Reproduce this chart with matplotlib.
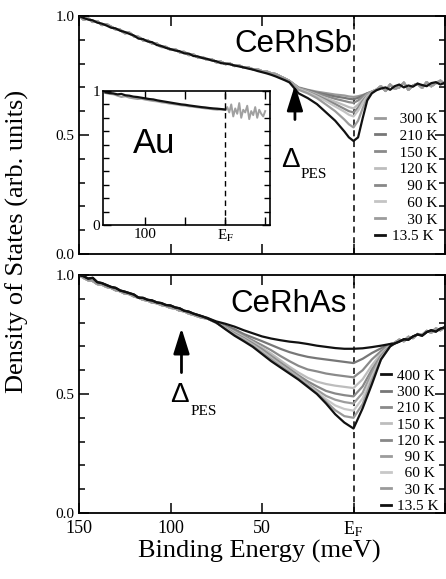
import numpy as np
import matplotlib
matplotlib.use("Agg")
import matplotlib.pyplot as plt
from matplotlib.lines import Line2D

plt.rcParams['font.family'] = ['Liberation Serif', 'DejaVu Serif']
plt.rcParams['mathtext.fontset'] = 'stix'

# ---------------- data: CeRhSb (top panel) ----------------
sb_hi_energy = [150, 147.5, 145, 142.5, 140, 137.5, 135, 132.5, 130, 127.5, 125, 122.5, 120, 117.5,
                115, 112.5, 110, 107.5, 105, 102.5, 100, 97.5, 95, 92.5, 90, 87.5, 85, 82.5, 80,
                77.5, 75, 72.5, 70, 67.5, 65, 62.5, 60, 57.5, 55, 52.5, 50, 47.5, 45, 42.5, 40, 37.5, 35]
sb_hi_black = [1.000, 0.992, 0.985, 0.982, 0.972, 0.968, 0.960, 0.951, 0.948, 0.938, 0.933, 0.925,
               0.918, 0.905, 0.903, 0.893, 0.890, 0.878, 0.874, 0.866, 0.861, 0.855, 0.852, 0.843,
               0.842, 0.832, 0.830, 0.823, 0.820, 0.813, 0.810, 0.802, 0.800, 0.797, 0.792, 0.788,
               0.784, 0.779, 0.775, 0.769, 0.764, 0.759, 0.753, 0.746, 0.738, 0.730, 0.721]
sb_hi_grey = [1.000, 0.985, 0.990, 0.975, 0.978, 0.962, 0.966, 0.955, 0.944, 0.942, 0.928, 0.930,
              0.915, 0.912, 0.898, 0.897, 0.884, 0.884, 0.870, 0.870, 0.858, 0.860, 0.848, 0.849,
              0.836, 0.838, 0.826, 0.827, 0.816, 0.818, 0.806, 0.808, 0.798, 0.800, 0.790, 0.792,
              0.783, 0.784, 0.776, 0.776, 0.768, 0.767, 0.759, 0.756, 0.746, 0.737, 0.727]
sb_dip_energy = [30, 25, 20, 15, 10, 5, 2.5, 0, -2.5, -5, -7.5, -10]
sb_temps = ['300 K', '210 K', '150 K', '120 K', '90 K', '60 K', '30 K', '13.5 K']
sb_dip = {
    '300 K': [.700, .690, .682, .676, .670, .666, .662, .660, .663, .668, .675, .682],
    '210 K': [.698, .688, .678, .670, .662, .656, .652, .650, .656, .665, .675, .682],
    '150 K': [.697, .686, .675, .664, .652, .643, .638, .635, .645, .660, .673, .682],
    '120 K': [.696, .684, .670, .655, .640, .625, .617, .612, .628, .650, .670, .682],
    '90 K':  [.695, .682, .666, .648, .630, .610, .600, .595, .615, .643, .667, .681],
    '60 K':  [.694, .680, .662, .642, .620, .598, .585, .578, .602, .635, .663, .680],
    '30 K':  [.690, .675, .655, .628, .600, .565, .545, .532, .560, .612, .655, .678],
    '13.5 K': [.675, .655, .630, .595, .560, .515, .490, .475, .490, .570, .645, .675],
}
sb_lo_energy = [-12.5, -15, -17.5, -20, -22.5, -25, -27.5, -30, -32.5, -35, -37.5, -40, -42.5,
                -45, -47.5, -50]
sb_lo_grey = [.690, .705, .685, .712, .695, .700, .720, .690, .708, .715, .698, .722, .705, .718,
              .728, .712]
sb_lo_black = [.688, .695, .700, .690, .705, .712, .700, .708, .703, .716, .710, .705, .718, .722,
               .712, .720]
sb_colors = ['#9a9a9a', '#777777', '#8a8a8a', '#bdbdbd', '#888888', '#c4c4c4', '#9c9c9c', '#111111']

# ---------------- data: CeRhAs (bottom panel) ----------------
as_hi_energy = [150, 147.5, 145, 142.5, 140, 137.5, 135, 132.5, 130, 127.5, 125, 122.5, 120, 117.5,
                115, 112.5, 110, 107.5, 105, 102.5, 100, 97.5, 95, 92.5, 90, 87.5, 85, 82.5]
as_hi_black = [1.000, 0.995, 0.985, 0.988, 0.970, 0.966, 0.958, 0.950, 0.946, 0.935, 0.930, 0.924,
               0.918, 0.905, 0.904, 0.896, 0.893, 0.885, 0.882, 0.874, 0.872, 0.864, 0.860, 0.850,
               0.846, 0.838, 0.832, 0.826]
as_hi_grey = [1.000, 0.988, 0.978, 0.975, 0.962, 0.960, 0.950, 0.946, 0.936, 0.932, 0.922, 0.920,
              0.910, 0.905, 0.896, 0.893, 0.884, 0.882, 0.874, 0.870, 0.862, 0.860, 0.850, 0.848,
              0.838, 0.833, 0.826, 0.820]
as_dip_energy = [80, 75, 70, 65, 60, 55, 50, 45, 40, 35, 30, 25, 20, 15, 10, 5, 0, -5, -10, -15, -20]
as_temps = ['400 K', '300 K', '210 K', '150 K', '120 K', '90 K', '60 K', '30 K', '13.5 K']
as_dip = {
    '400 K': [.82, .805, .795, .783, .768, .755, .742, .733, .726, .72, .716, .71, .703, .698, .693,
              .69, .69, .692, .697, .703, .71],
    '300 K': [.82, .80, .787, .772, .752, .737, .722, .706, .69, .676, .665, .656, .65, .645, .64,
              .635, .63, .648, .672, .692, .71],
    '210 K': [.818, .80, .782, .765, .745, .725, .705, .684, .66, .638, .618, .603, .595, .586, .58,
              .575, .57, .60, .645, .68, .708],
    '150 K': [.818, .80, .78, .76, .74, .718, .695, .67, .642, .615, .59, .568, .552, .542, .535,
              .53, .525, .562, .62, .67, .706],
    '120 K': [.818, .80, .778, .755, .735, .712, .688, .66, .632, .605, .578, .553, .532, .513, .502,
              .495, .49, .532, .602, .66, .703],
    '90 K':  [.818, .80, .776, .752, .732, .708, .683, .655, .627, .60, .572, .543, .517, .492, .476,
              .466, .46, .505, .588, .655, .702],
    '60 K':  [.818, .80, .775, .75, .73, .705, .678, .65, .622, .595, .568, .538, .508, .478, .452,
              .437, .43, .482, .572, .65, .70],
    '30 K':  [.818, .80, .774, .748, .727, .702, .674, .646, .618, .592, .565, .535, .503, .468, .432,
              .407, .40, .458, .558, .645, .70],
    '13.5 K': [.818, .80, .772, .745, .722, .698, .668, .638, .612, .586, .56, .53, .50, .46, .415,
               .38, .355, .44, .54, .645, .70],
}
as_lo_energy = [-22.5, -25, -27.5, -30, -32.5, -35, -37.5, -40, -42.5, -45, -47.5, -50]
as_lo_grey = [.715, .728, .722, .74, .735, .752, .748, .765, .758, .775, .768, .782]
as_lo_black = [.712, .72, .73, .728, .742, .75, .745, .76, .768, .762, .775, .78]
as_colors = ['#111111', '#777777', '#8a8a8a', '#bdbdbd', '#888888', '#9c9c9c', '#c8c8c8', '#9a9a9a',
             '#111111']

# ---------------- data: Au inset ----------------
au_black_energy = [150, 145, 140, 135, 130, 125, 120, 115, 110, 105, 100, 95, 90, 85, 80, 75, 70,
                   65, 60, 55, 50, 45, 40, 35, 30, 25, 20, 15, 10, 5, 0]
au_black = [0.99, 0.985, 0.982, 0.975, 0.978, 0.968, 0.965, 0.958, 0.955, 0.95, 0.945, 0.94, 0.937,
            0.93, 0.925, 0.92, 0.915, 0.91, 0.905, 0.90, 0.897, 0.892, 0.888, 0.884, 0.88, 0.877,
            0.873, 0.87, 0.868, 0.865, 0.862]
au_grey_energy = au_black_energy + [-2.5, -5, -7.5, -10, -12.5, -15, -17.5, -20, -22.5, -25, -27.5,
                                    -30, -32.5, -35, -37.5, -40, -42.5, -45, -47.5, -50]
au_grey = [0.985, 0.978, 0.975, 0.965, 0.955, 0.96, 0.95, 0.945, 0.94, 0.942, 0.935, 0.93, 0.925,
           0.922, 0.915, 0.912, 0.906, 0.902, 0.898, 0.893, 0.89, 0.885, 0.882, 0.878, 0.874, 0.87,
           0.867, 0.863, 0.86, 0.862, 0.858,
           .88, .84, .90, .81, .87, .83, .91, .80, .86, .84, .89, .79, .85, .82, .88, .80, .86, .83,
           .81, .85]

W, H = 446, 579
fig = plt.figure(figsize=(W / 100, H / 100), dpi=100)


def frac(x0, y0, x1, y1):
    return [x0 / W, 1 - y1 / H, (x1 - x0) / W, (y1 - y0) / H]


ax1 = fig.add_axes(frac(79, 16, 445, 254))
ax2 = fig.add_axes(frac(79, 275, 445, 513))
axi = fig.add_axes(frac(103, 91, 270, 225))

xticks = [150, 100, 50, 0, -50]
xticklabels = ['150', '100', '50', r'E$_\mathrm{F}$', '']


def style_main(ax, show_labels):
    ax.set_xlim(150, -50)
    ax.set_ylim(0, 1.0)
    ax.set_xticks(xticks)
    ax.set_yticks([0.0, 0.5, 1.0])
    ax.set_yticks(np.arange(0, 1.01, 0.1), minor=True)
    ax.set_yticklabels(['0.0', '0.5', '1.0'], fontsize=11)
    if show_labels:
        ax.set_xticklabels(xticklabels, fontsize=13)
    else:
        ax.set_xticklabels([])
    ax.tick_params(which='both', direction='in', top=True, right=True, width=1.1)
    ax.tick_params(which='major', length=7, pad=3)
    ax.tick_params(axis='x', which='major', pad=5)
    ax.tick_params(which='minor', length=4)
    for s in ax.spines.values():
        s.set_linewidth(1.3)
    ax.axvline(0, color='k', lw=1.1, ls=(0, (4, 3)), zorder=1)


style_main(ax1, False)
style_main(ax2, True)

# top panel curves
handles1 = []
for t, c in zip(sb_temps, sb_colors):
    is_black = c == '#111111'
    hi = sb_hi_black if is_black else sb_hi_grey
    lo = sb_lo_black if is_black else sb_lo_grey
    e = sb_hi_energy + sb_dip_energy + sb_lo_energy
    v = hi + sb_dip[t] + lo
    ax1.plot(e, v, color=c, lw=1.6, zorder=3 if is_black else 2)
    handles1.append(Line2D([], [], color=c, lw=2))

# bottom panel curves
handles2 = []
for t, c in zip(as_temps, as_colors):
    is_black = c == '#111111'
    hi = as_hi_black if is_black else as_hi_grey
    lo = as_lo_black if is_black else as_lo_grey
    e = as_hi_energy + as_dip_energy + as_lo_energy
    v = hi + as_dip[t] + lo
    ax2.plot(e, v, color=c, lw=1.6, zorder=3 if is_black else 2)
    handles2.append(Line2D([], [], color=c, lw=2))

sb_labels = ['\u2007300 K', '\u2007210 K', '\u2007150 K', '\u2007120 K', '\u2007\u200790 K',
             '\u2007\u200760 K', '\u2007\u200730 K', '13.5 K']
as_labels = ['400 K', '300 K', '210 K', '150 K', '120 K', '\u200790 K', '\u200760 K',
             '\u200730 K', '13.5 K']
leg_kw = dict(frameon=False, fontsize=11, handlelength=0.65, handletextpad=0.4,
              borderpad=0, borderaxespad=0, loc='upper left')
ax1.legend(handles1, sb_labels, bbox_to_anchor=(0.81, 0.595), labelspacing=0.2, **leg_kw)
ax2.legend(handles2, as_labels, bbox_to_anchor=(0.825, 0.605), labelspacing=0.17, **leg_kw)

# titles
ax1.text(0.8, 0.849, 'CeRhSb', fontsize=22.5, family='Liberation Sans', ha='right', va='baseline')
ax2.text(3.5, 0.845, 'CeRhAs', fontsize=22.5, family='Liberation Sans', ha='right', va='baseline')

# Delta_PES annotations
arrow_kw = dict(arrowstyle='-|>,head_length=0.7,head_width=0.22', mutation_scale=22, lw=2.0,
                color='k', shrinkA=0, shrinkB=0)
ax1.annotate('', xy=(32, 0.71), xytext=(32, 0.565), arrowprops=arrow_kw, zorder=5)
ax1.text(34.2, 0.366, '\u0394', fontsize=20, family='Liberation Sans', ha='center', va='baseline')
ax1.text(29.2, 0.319, 'PES', fontsize=11, ha='left', va='baseline')
ax2.annotate('', xy=(94, 0.777), xytext=(94, 0.59), arrowprops=arrow_kw, zorder=5)
ax2.text(95.3, 0.466, '\u0394', fontsize=20, family='Liberation Sans', ha='center', va='baseline')
ax2.text(89.3, 0.412, 'PES', fontsize=11, ha='left', va='baseline')

# inset
axi.set_facecolor('white')
axi.plot(au_grey_energy, au_grey, color='#a0a0a0', lw=1.4)
axi.plot(au_black_energy, au_black, color='#111111', lw=1.6)
axi.set_xlim(153, -56)
axi.set_ylim(0, 1)
axi.set_xticks([100, 50, 0, -50])
axi.set_xticklabels(['100', '', r'E$_\mathrm{F}$', ''], fontsize=11)
axi.set_yticks([0, 1])
axi.set_yticklabels(['0', '1'], fontsize=11)
axi.set_yticks(np.arange(0, 1.01, 0.1), minor=True)
axi.tick_params(which='both', direction='in', top=True, right=True, width=1.0)
axi.tick_params(which='major', length=6, pad=2)
axi.tick_params(which='minor', length=4)
for s in axi.spines.values():
    s.set_linewidth(1.2)
axi.axvline(0, color='k', lw=1.0, ls=(0, (4, 3)))
axi.text(115, 0.537, 'Au', fontsize=25, family='Liberation Sans', ha='left', va='baseline')

fig.text(17 / W, 1 - 241 / H, 'Density of States (arb. units)', rotation=90, fontsize=19,
         ha='center', va='center')
fig.text(259 / W, 1 - 551 / H, 'Binding Energy (meV)', fontsize=19, ha='center', va='center')

fig.savefig('out.png', dpi=100)
